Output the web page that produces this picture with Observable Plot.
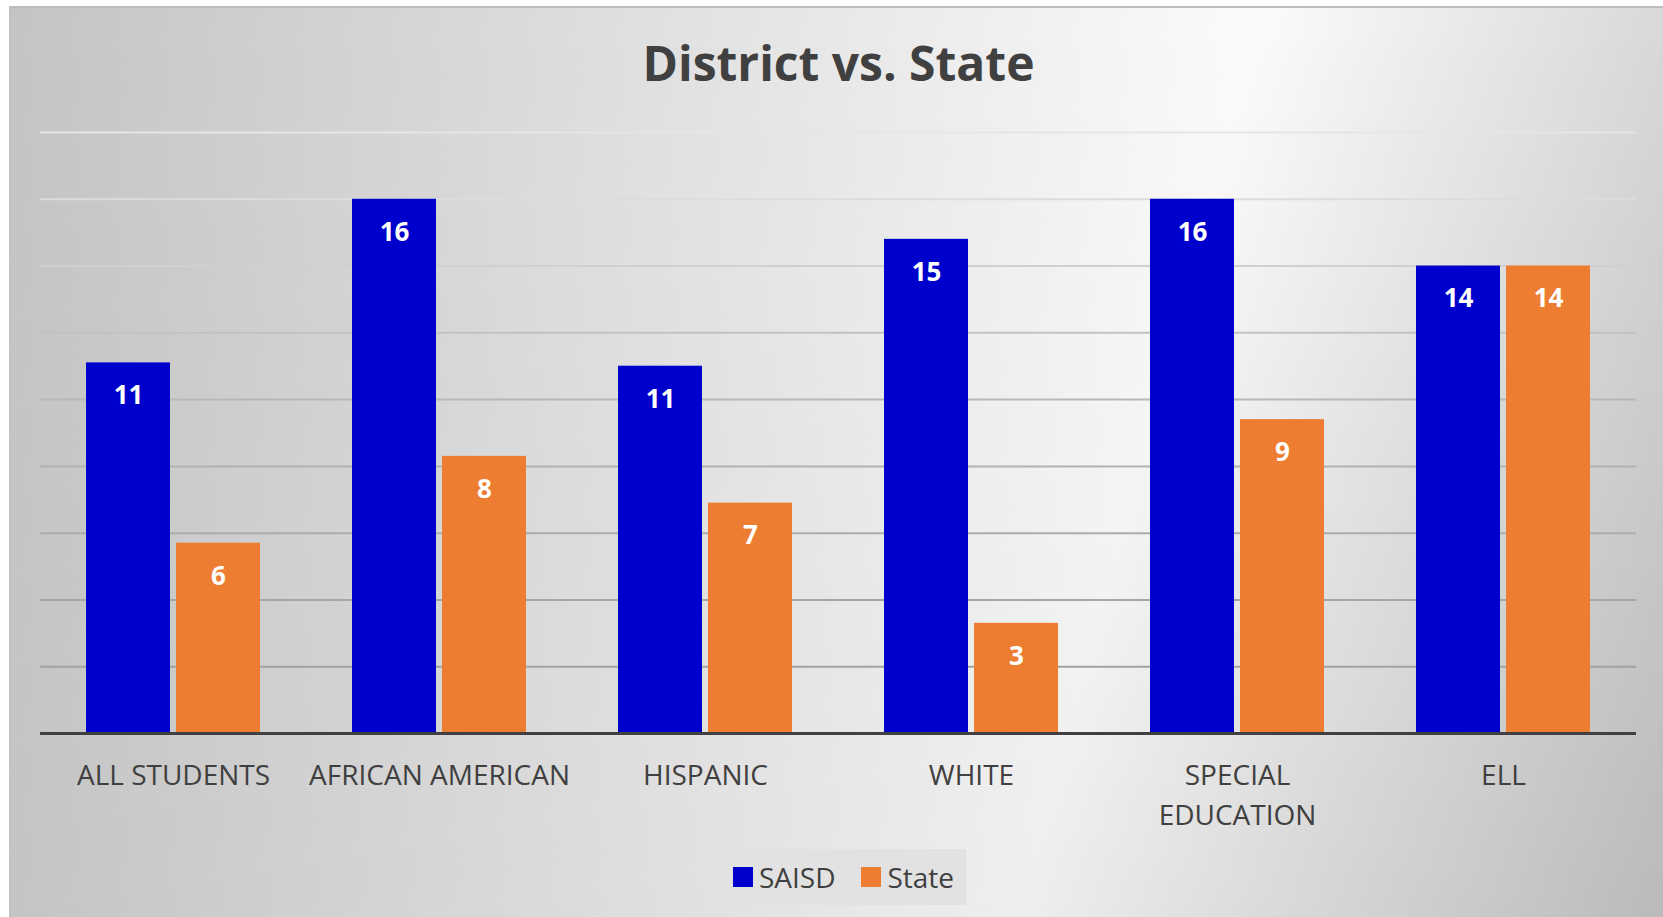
<!DOCTYPE html>
<html>
<head>
<meta charset="utf-8">
<script src="https://cdn.jsdelivr.net/npm/d3@7"></script>
<script src="https://cdn.jsdelivr.net/npm/@observablehq/plot@0.6"></script>
<style>
  html, body { margin: 0; padding: 0; background: #ffffff; width: 1663px; height: 917px; overflow: hidden; }
  #frame {
    position: absolute; left: 9px; top: 6px; width: 1654px; height: 911px;
    border-top: 2px solid #bdbdbd; border-left: 2px solid #c2c2c2; box-sizing: border-box;
    background:
      linear-gradient(to bottom, rgba(0,0,0,0) 0%, rgba(0,0,0,0.05) 100%),
      linear-gradient(105deg, #c4c4c4 0%, #fbfbfb 66%, #c4c4c4 100%);
  }
  #title {
    position: absolute; left: 40px; width: 1597px; top: 28px; height: 70px;
    font-family: "Open Sans", sans-serif; font-weight: bold; font-size: 48px; line-height: 70px;
    color: #404040; text-align: center;
  }
  #chart { position: absolute; left: 0px; top: 100px; }
  #legend {
    position: absolute; left: 711px; top: 849px; width: 255px; height: 56px; box-sizing: border-box;
    padding-left: 10px;
    background: #e2e2e2; display: flex; align-items: center; justify-content: center; gap: 26px;
    font-family: "Open Sans", sans-serif; font-size: 28px; color: #404040;
  }
  .item { display: flex; align-items: center; gap: 6px; }
  .sw { width: 20px; height: 20px; display: inline-block; }
</style>
</head>
<body>
<div id="frame"></div>
<div id="title">District vs. State</div>
<div id="chart"></div>
<div id="legend"></div>
<script>
const categories = ["ALL STUDENTS", "AFRICAN AMERICAN", "HISPANIC", "WHITE", "SPECIAL EDUCATION", "ELL"];
const seriesNames = ["SAISD", "State"];
const saisdValues = [11.1, 16, 11, 14.8, 16, 14];
const stateValues = [5.7, 8.3, 6.9, 3.3, 9.4, 14];
const gridTicks = [2, 4, 6, 8, 10, 12, 14, 16, 18];
const seriesColors = ["#0000CC", "#ED7D31"];
const gridColors = ["#a2a2a2", "#a6a6a6", "#acacac", "#b2b2b2", "#b8b8b8", "#c2c2c2", "#d0d0d0", "#dcdcdc", "#e6e6e6"];

const data = categories.flatMap((c, i) => [
  {category: c, series: seriesNames[0], value: saisdValues[i]},
  {category: c, series: seriesNames[1], value: stateValues[i]}
]);

const chart = Plot.plot({
  width: 1663,
  height: 720,
  marginLeft: 39,
  marginRight: 26,
  marginTop: 32,
  marginBottom: 87,
  style: {background: "transparent", fontFamily: "'Open Sans', sans-serif", overflow: "visible"},
  fx: {domain: categories, padding: 0, label: null, axis: null},
  x: {domain: seriesNames, paddingInner: 0.065, paddingOuter: 0.51, axis: null},
  y: {domain: [0, 18], axis: null},
  color: {domain: seriesNames, range: seriesColors},
  marks: [
    ...gridTicks.map((t, i) => Plot.ruleY([t], {stroke: gridColors[i], strokeWidth: 2})),
    Plot.barY(data, {fx: "category", x: "series", y: "value", fill: "series"}),
    Plot.text(data, {
      fx: "category", x: "series", y: "value",
      text: d => String(Math.round(d.value)),
      dy: 33, fill: "white", fontWeight: "bold", fontSize: 26
    }),
    Plot.ruleY([0], {stroke: "#404040", strokeWidth: 3}),
    Plot.axisFx({
      anchor: "bottom", tickSize: 0, tickPadding: 24, fontSize: 28, fill: "#404040",
      label: null, lineHeight: 1.4,
      tickFormat: d => d === "SPECIAL EDUCATION" ? "SPECIAL\nEDUCATION" : d
    })
  ]
});
document.getElementById("chart").appendChild(chart);

const legend = document.getElementById("legend");
seriesNames.forEach((s, i) => {
  const item = document.createElement("div");
  item.className = "item";
  const sw = document.createElement("span");
  sw.className = "sw";
  sw.style.background = seriesColors[i];
  const label = document.createElement("span");
  label.textContent = s;
  item.appendChild(sw);
  item.appendChild(label);
  legend.appendChild(item);
});
</script>
</body>
</html>
